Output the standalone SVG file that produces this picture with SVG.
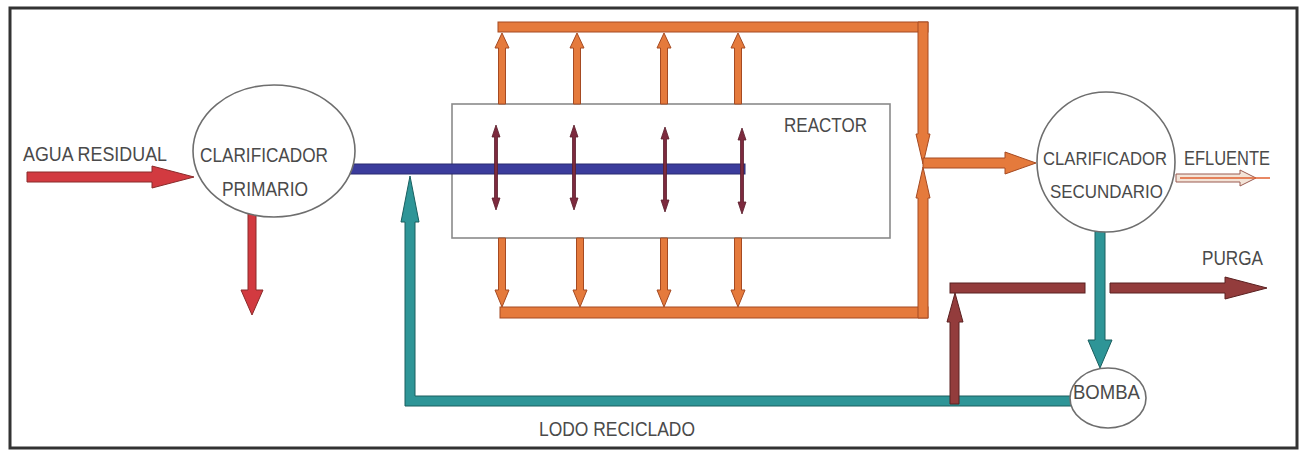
<svg xmlns="http://www.w3.org/2000/svg" width="1303" height="450" viewBox="0 0 1303 450">
<style>
.lbl{font-family:"Liberation Sans",Arial,sans-serif;font-size:21px;fill:#4a4a4a;}
.sm{font-size:18px;}
.node{fill:#fff;stroke:#6e6e6e;stroke-width:1.6;}
.red{fill:#d23a40;stroke:#8a2a2a;stroke-width:1;}
.org{fill:#e57a3c;stroke:#a54a22;stroke-width:1;}
.mar{fill:#7d2a3e;stroke:#5a1e2c;stroke-width:0.8;}
.teal{fill:#2e9597;stroke:#1a5f5f;stroke-width:1;}
.pur{fill:#933c3c;stroke:#5a2020;stroke-width:1;}
.blue{fill:#3b3c9c;stroke:#2a2a70;stroke-width:1;}
</style>
<rect x="0" y="0" width="1303" height="450" fill="#fff"/>
<rect id="frame" x="10" y="8" width="1287" height="440" fill="none" stroke="#333" stroke-width="3"/>

<g id="reactor">
  <rect x="452" y="104" width="438" height="134" fill="#fff" stroke="#8a8a8a" stroke-width="1.6"/>
  <text class="lbl" x="784" y="132" textLength="83" lengthAdjust="spacingAndGlyphs">REACTOR</text>
</g>

<g id="connectors">
  <path class="red" d="M27,172 H152 V166 L194,177 L152,188 V182 H27 Z"/>
  <path class="red" d="M248,210 V290 H241 L252,315 L263,290 H256 V210 Z"/>
  <rect class="blue" x="350" y="164" width="395" height="10"/>
  <path class="mar" d="M494.5,137 V198 H492 L496,210 L500,198 H497.5 V137 H500 L496,125 L492,137 Z"/>
  <path class="mar" d="M572.5,137 V198 H570 L574,210 L578,198 H575.5 V137 H578 L574,125 L570,137 Z"/>
  <path class="mar" d="M663.5,139 V200 H661 L665,212 L669,200 H666.5 V139 H669 L665,127 L661,139 Z"/>
  <path class="mar" d="M740.5,140 V202 H738 L742,214 L746,202 H743.5 V140 H746 L742,128 L738,140 Z"/>
  <rect class="org" x="498" y="22" width="430" height="10"/>
  <path class="org" d="M498.5,104 V48 H495 L502,33 L509,48 H505.5 V104 Z"/>
  <path class="org" d="M573.5,104 V48 H570 L577,33 L584,48 H580.5 V104 Z"/>
  <path class="org" d="M660.5,104 V48 H657 L664,33 L671,48 H667.5 V104 Z"/>
  <path class="org" d="M734.5,104 V48 H731 L738,33 L745,48 H741.5 V104 Z"/>
  <rect class="org" x="500" y="307" width="428" height="11"/>
  <path class="org" d="M498.5,238 V290 H495 L502,307 L509,290 H505.5 V238 Z"/>
  <path class="org" d="M576.5,238 V290 H573 L580,307 L587,290 H583.5 V238 Z"/>
  <path class="org" d="M660.5,238 V290 H657 L664,307 L671,290 H667.5 V238 Z"/>
  <path class="org" d="M734.5,238 V290 H731 L738,307 L745,290 H741.5 V238 Z"/>
  <path class="org" d="M918,22 V134 H916 L923,164 L930,134 H928 V22 Z"/>
  <path class="org" d="M918,318 V198 H916 L923,167 L930,198 H928 V318 Z"/>
  <path class="org" d="M923,158 H1005 V152 L1036,163 L1005,174 V168 H923 Z"/>
  <path d="M1176,174 H1240 V170 L1256,178 L1240,186 V182 H1176 Z" fill="#f3e4d8" stroke="#9a5a50" stroke-width="1"/>
  <line x1="1180" y1="178" x2="1270" y2="178" stroke="#e06030" stroke-width="1.5"/>
  <path class="teal" d="M1095,228 V340 H1088 L1100,368 L1112,340 H1105 V228 Z"/>
  <path class="teal" d="M1072,396 H415 V222 H419 L410,176 L401,222 H405 V406 H1072 Z"/>
  <path class="pur" d="M950,404 V322 H947 L955,293 L963,322 H959 V404 Z"/>
  <rect class="pur" x="950" y="283" width="135" height="10"/>
  <path class="pur" d="M1110,283 H1225 V277 L1267,288 L1225,299 V293 H1110 Z"/>
</g>

<g id="clarificador-primario">
  <ellipse class="node" cx="274" cy="151" rx="81" ry="66"/>
  <text class="lbl" x="200" y="162" textLength="128" lengthAdjust="spacingAndGlyphs">CLARIFICADOR</text>
  <text class="lbl" x="222" y="196" textLength="86" lengthAdjust="spacingAndGlyphs">PRIMARIO</text>
</g>

<g id="clarificador-secundario">
  <ellipse class="node" cx="1106" cy="162" rx="69" ry="70"/>
  <text class="lbl sm" x="1043" y="165" textLength="124" lengthAdjust="spacingAndGlyphs">CLARIFICADOR</text>
  <text class="lbl sm" x="1050" y="198" textLength="113" lengthAdjust="spacingAndGlyphs">SECUNDARIO</text>
</g>

<g id="bomba">
  <ellipse class="node" cx="1108" cy="398" rx="38" ry="30"/>
  <text class="lbl" x="1073" y="399" textLength="67" lengthAdjust="spacingAndGlyphs">BOMBA</text>
</g>

<g id="labels">
  <text class="lbl" x="23" y="161" textLength="144" lengthAdjust="spacingAndGlyphs">AGUA RESIDUAL</text>
  <text class="lbl" x="1184" y="165" textLength="86" lengthAdjust="spacingAndGlyphs">EFLUENTE</text>
  <text class="lbl" x="1202" y="265" textLength="61" lengthAdjust="spacingAndGlyphs">PURGA</text>
  <text class="lbl" x="539" y="436" textLength="156" lengthAdjust="spacingAndGlyphs">LODO RECICLADO</text>
</g>
</svg>
